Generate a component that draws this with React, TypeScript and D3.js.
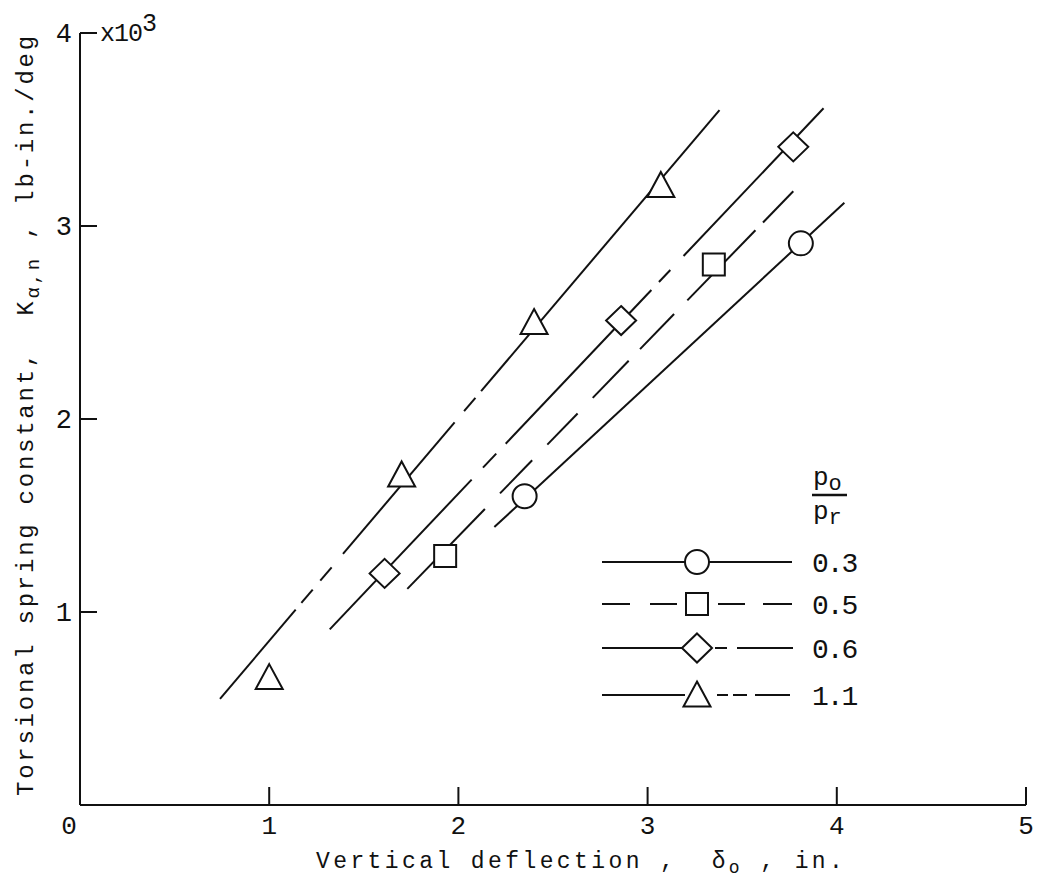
import React from 'react';
import * as d3 from 'd3';

// ---------- data ----------
const xTickValues = [0, 1, 2, 3, 4, 5];
const xTickLabels = ['0', '1', '2', '3', '4', '5'];
const yTickValues = [1, 2, 3, 4];
const yTickLabels = ['1', '2', '3', '4'];

const ratioLabels = ['0.3', '0.5', '0.6', '1.1'];

const circleX = [2.35, 3.81];
const circleY = [1.6, 2.91];
const squareX = [1.93, 3.35];
const squareY = [1.29, 2.8];
const diamondX = [1.61, 2.86, 3.77];
const diamondY = [1.2, 2.51, 3.41];
const triangleX = [1.0, 1.7, 2.4, 3.07];
const triangleY = [0.66, 1.71, 2.5, 3.21];

// faired lines [x0, y0, x1, y1]
const circleFit = [2.19, 1.44, 4.04, 3.12];
const squareFit = [1.73, 1.12, 3.77, 3.18];
const diamondFit = [1.32, 0.91, 3.93, 3.61];
const triangleFit = [0.74, 0.55, 3.38, 3.6];

// drawn pieces of each faired line (x ranges)
const circlePieces = [[2.19, 4.04]];
const squarePieces = [[1.73, 2.14], [2.22, 2.39], [2.47, 2.63], [2.71, 2.9], [2.96, 3.14], [3.21, 3.57], [3.61, 3.77]];
const diamondPieces = [[1.32, 2.07], [2.13, 2.2], [2.25, 3.02], [3.06, 3.12], [3.19, 3.93]];
const trianglePieces = [[0.74, 1.14], [1.17, 1.23], [1.27, 1.33], [1.39, 1.98], [2.03, 2.09], [2.12, 3.38]];

// ---------- layout ----------
const W = 1047;
const H = 880;
const FONT = '"Liberation Mono", "DejaVu Sans Mono", monospace';
const INK = '#111';

const x = d3.scaleLinear().domain([0, 5]).range([80, 1026]);
const y = d3.scaleLinear().domain([0, 4]).range([805, 33]);

type Shape = 'circle' | 'square' | 'diamond' | 'triangle';

function markerPath(shape: Shape): string {
  const p = d3.path();
  if (shape === 'circle') {
    p.arc(0, 0, 12, 0, Math.PI * 2);
  } else if (shape === 'square') {
    p.rect(-11, -11, 22, 22);
  } else if (shape === 'diamond') {
    p.moveTo(0, -14.5);
    p.lineTo(15, 0);
    p.lineTo(0, 14.5);
    p.lineTo(-15, 0);
    p.closePath();
  } else {
    p.moveTo(0, -13.5);
    p.lineTo(13.5, 11.5);
    p.lineTo(-13.5, 11.5);
    p.closePath();
  }
  return p.toString();
}

function Marker({ cx, cy, shape }: { cx: number; cy: number; shape: Shape }) {
  return (
    <path
      d={markerPath(shape)}
      transform={`translate(${cx},${cy})`}
      fill="#fff"
      stroke={INK}
      strokeWidth={2}
    />
  );
}

function FitLine({ fit, pieces }: { fit: number[]; pieces: number[][] }) {
  const [x0, y0, x1, y1] = fit;
  const f = d3.scaleLinear().domain([x0, x1]).range([y0, y1]);
  const line = d3
    .line<number>()
    .x((d) => x(d))
    .y((d) => y(f(d)));
  return (
    <g>
      {pieces.map((pc, i) => (
        <path key={i} d={line(pc) || ''} fill="none" stroke={INK} strokeWidth={2} />
      ))}
    </g>
  );
}

function Points({ xs, ys, shape }: { xs: number[]; ys: number[]; shape: Shape }) {
  return (
    <g>
      {xs.map((v, i) => (
        <Marker key={i} cx={x(v)} cy={y(ys[i])} shape={shape} />
      ))}
    </g>
  );
}

function Legend() {
  const mx = 697;
  const rows = [562, 604, 648, 695];
  const shapes: Shape[] = ['circle', 'square', 'diamond', 'triangle'];
  const segs: number[][][] = [
    [[602, 792]],
    [[602, 630], [650, 677], [718, 745], [763, 792]],
    [[602, 685], [715, 727], [737, 793]],
    [[602, 685], [717, 728], [733, 747], [755, 790]],
  ];
  return (
    <g>
      <text x={813} y={485} fontSize={26} fontFamily={FONT} fill={INK}>
        p<tspan dy={5} fontSize={22}>o</tspan>
      </text>
      <line x1={812} x2={847} y1={495} y2={495} stroke={INK} strokeWidth={2.5} />
      <text x={813} y={519} fontSize={26} fontFamily={FONT} fill={INK}>
        p<tspan dy={5} fontSize={22}>r</tspan>
      </text>
      {rows.map((ry, i) => (
        <g key={i}>
          {segs[i].map((s, j) => (
            <line key={j} x1={s[0]} x2={s[1]} y1={ry} y2={ry} stroke={INK} strokeWidth={2} />
          ))}
          <Marker cx={mx} cy={ry} shape={shapes[i]} />
          <text x={812} y={ry} dy="0.35em" fontSize={28} letterSpacing={-2} fontFamily={FONT} fill={INK}>
            {ratioLabels[i]}
          </text>
        </g>
      ))}
    </g>
  );
}

export default function App() {
  return (
    <svg
      width={W}
      height={H}
      viewBox={`0 0 ${W} ${H}`}
      style={{ position: 'absolute', left: 0, top: 0, background: '#fff' }}
    >
      <rect x={0} y={0} width={W} height={H} fill="#fff" />

      {/* axes */}
      <line x1={x(0)} x2={x(5)} y1={y(0)} y2={y(0)} stroke={INK} strokeWidth={2} />
      <line x1={x(0)} x2={x(0)} y1={y(0)} y2={y(4)} stroke={INK} strokeWidth={2} />
      {xTickValues.slice(1).map((v) => (
        <line key={v} x1={x(v)} x2={x(v)} y1={y(0)} y2={y(0) - 18} stroke={INK} strokeWidth={2} />
      ))}
      {yTickValues.map((v) => (
        <line key={v} x1={x(0)} x2={x(0) + 17} y1={y(v)} y2={y(v)} stroke={INK} strokeWidth={2} />
      ))}
      {xTickValues.map((v, i) => (
        <text
          key={v}
          x={v === 0 ? x(v) - 11 : x(v)}
          y={834}
          textAnchor="middle"
          fontSize={26}
          fontFamily={FONT}
          fill={INK}
        >
          {xTickLabels[i]}
        </text>
      ))}
      {yTickValues.map((v, i) => (
        <text
          key={v}
          x={72}
          y={y(v)}
          dy="0.35em"
          textAnchor="end"
          fontSize={27}
          fontFamily={FONT}
          fill={INK}
        >
          {yTickLabels[i]}
        </text>
      ))}
      <text x={100} y={41} fontSize={25} fontFamily={FONT} fill={INK} letterSpacing={-1}>
        x10<tspan dy={-10}>3</tspan>
      </text>

      {/* axis titles */}
      <text
        x={316}
        y={868}
        fontSize={23}
        fontFamily={FONT}
        fill={INK}
        letterSpacing={3.4}
        style={{ whiteSpace: 'pre' }}
      >
        {'Vertical deflection ,  δ'}
        <tspan dy={5} fontSize={18}>o</tspan>
        <tspan dy={-5}>{' , in.'}</tspan>
      </text>
      <text
        transform="translate(33,796) rotate(-90)"
        fontSize={24}
        fontFamily={FONT}
        fill={INK}
        letterSpacing={2.75}
        style={{ whiteSpace: 'pre' }}
      >
        {'Torsional spring constant,  K'}
        <tspan dy={6} fontSize={19}>α,n</tspan>
        <tspan dy={-6}>{' , lb-in./deg'}</tspan>
      </text>

      {/* faired lines */}
      <FitLine fit={circleFit} pieces={circlePieces} />
      <FitLine fit={squareFit} pieces={squarePieces} />
      <FitLine fit={diamondFit} pieces={diamondPieces} />
      <FitLine fit={triangleFit} pieces={trianglePieces} />

      {/* data points */}
      <Points xs={circleX} ys={circleY} shape="circle" />
      <Points xs={squareX} ys={squareY} shape="square" />
      <Points xs={diamondX} ys={diamondY} shape="diamond" />
      <Points xs={triangleX} ys={triangleY} shape="triangle" />

      <Legend />
    </svg>
  );
}
